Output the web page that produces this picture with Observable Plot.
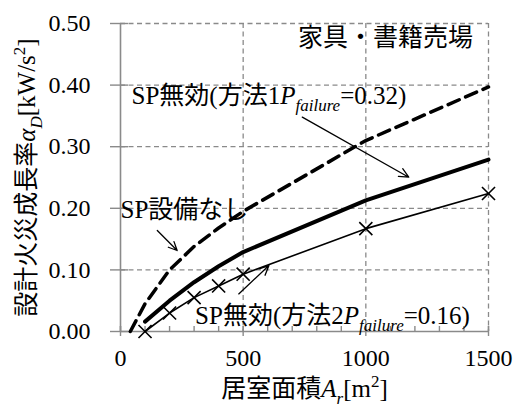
<!DOCTYPE html>
<html><head><meta charset="utf-8">
<script src="https://cdn.jsdelivr.net/npm/d3@7"></script>
<script src="https://cdn.jsdelivr.net/npm/@observablehq/plot@0.6"></script>
<style>
body{margin:0;background:#fff}
#chart svg text, #chart svg tspan { font-family: "Liberation Serif", "Times New Roman", "Noto Sans CJK JP" !important; }
</style>
</head><body><div id="chart"></div>
<script>
// ---- data ----
const noSpArea = [40, 100, 200, 300, 400, 500, 1000, 1500];
const noSpAlpha = [0, 0.045, 0.100, 0.138, 0.168, 0.195, 0.310, 0.397];
const area = [100, 200, 300, 400, 500, 1000, 1500];
const method1Alpha = [0.016, 0.050, 0.080, 0.106, 0.129, 0.213, 0.279];
const method2Alpha = [0.000, 0.030, 0.055, 0.074, 0.093, 0.167, 0.224];
const xTicks = [0, 500, 1000, 1500];
const xMinorTicks = [0, 100, 200, 300, 400, 500, 600, 700, 800, 900, 1000, 1100, 1200, 1300, 1400, 1500];
const yTicks = [0, 0.1, 0.2, 0.3, 0.4, 0.5];
const yTickLabels = ["0.00", "0.10", "0.20", "0.30", "0.40", "0.50"];
const xLabel = "居室面積A_r[m^2]";
const yLabel = "設計火災成長率α_D[kW/s^2]";
const annoText = ["家具・書籍売場", "SP無効(方法1P_failure=0.32)", "SP設備なし", "SP無効(方法2P_failure=0.16)"];
const annoX = [724, 45, 0, 304];
const annoY = [0.477, 0.383, 0.198, 0.0255];
const arrowX1 = [741, 150, 482];
const arrowY1 = [0.348, 0.164, 0.061];
const arrowX2 = [1175, 231, 605];
const arrowY2 = [0.2505, 0.1315, 0.107];

const FS = 24;   // tick labels
const FA = 25;   // annotations & axis titles
const gray = "#8a8a8a";
const noSp = noSpArea.map((x, i) => ({x, y: noSpAlpha[i]}));
const m1 = area.map((x, i) => ({x, y: method1Alpha[i]}));
const m2 = area.map((x, i) => ({x, y: method2Alpha[i]}));
const annos = annoText.map((t, i) => ({t, x: annoX[i], y: annoY[i]}));
const arrows = arrowX1.map((x1, i) => ({x1, y1: arrowY1[i], x2: arrowX2[i], y2: arrowY2[i]}));

const chart = Plot.plot({
  width: 515, height: 409,
  marginLeft: 120, marginRight: 27, marginTop: 23, marginBottom: 78,
  style: {fontFamily: '"Liberation Serif","Noto Sans CJK JP",serif', fontSize: FS + "px", background: "#fff", color: "#000", overflow: "visible"},
  x: {domain: [0, 1500]},
  y: {domain: [0, 0.5]},
  marks: [
    Plot.gridY(yTicks.slice(1), {stroke: gray, strokeOpacity: 1, strokeWidth: 1.3, strokeDasharray: "5,3.5"}),
    Plot.gridX(xTicks.slice(1), {stroke: gray, strokeOpacity: 1, strokeWidth: 1.3, strokeDasharray: "5,3.5"}),
    Plot.ruleX([0], {stroke: gray, strokeWidth: 1.6}),
    Plot.ruleY([0], {stroke: gray, strokeWidth: 1.6}),
    Plot.axisY(yTicks, {tickSize: 18, dx: 8, text: null, stroke: gray, strokeWidth: 1.4}),
    Plot.axisY(yTicks, {tickSize: 0, tickPadding: 30, tickFormat: (d) => yTickLabels[yTicks.indexOf(d)], fill: "#000", fontSize: FS, label: null}),
    Plot.axisX(xTicks, {tickSize: 10, dy: -5, text: null, stroke: gray, strokeWidth: 1.4}),
    Plot.axisX(xMinorTicks, {tickSize: 5, dy: -5, text: null, stroke: gray, strokeWidth: 1.4}),
    Plot.axisX(xTicks, {tickSize: 0, tickPadding: 17, tickFormat: d => String(d), fill: "#000", fontSize: FS, label: null}),
    Plot.line(noSp, {x: "x", y: "y", stroke: "#000", strokeWidth: 3.5, strokeDasharray: "12,7"}),
    Plot.line(m1, {x: "x", y: "y", stroke: "#000", strokeWidth: 4}),
    Plot.line(m2, {x: "x", y: "y", stroke: "#000", strokeWidth: 1.6}),
    Plot.dot(m2, {x: "x", y: "y", symbol: "times", r: 6, stroke: "#000", strokeWidth: 1.6}),
    Plot.arrow(arrows, {x1: "x1", y1: "y1", x2: "x2", y2: "y2", bend: 0, headLength: 12, headAngle: 50, stroke: "#000", strokeWidth: 1.3}),
    Plot.text(annos, {x: "x", y: "y", text: "t", textAnchor: "start", lineAnchor: "middle", fontSize: FA, fill: "#000"}),
    Plot.text([xLabel], {frameAnchor: "bottom", dy: 57, textAnchor: "middle", lineAnchor: "middle", fontSize: FA, fill: "#000"}),
    Plot.text([yLabel], {frameAnchor: "left", dx: -94, rotate: -90, textAnchor: "middle", lineAnchor: "middle", fontSize: FA, fill: "#000"})
  ]
});

// rich text: X_sub -> italic X with italic subscript, ^n -> superscript
function parts(s) {
  const out = [];
  const re = /([A-Za-zα])_([A-Za-z]+)|\^(\w)/g;
  let last = 0, m;
  while ((m = re.exec(s))) {
    if (m.index > last) out.push({t: s.slice(last, m.index), shift: 0});
    if (m[1]) { out.push({t: m[1], italic: true, shift: 0}); out.push({t: m[2], italic: true, shift: 0.3, small: true}); }
    else out.push({t: m[3], shift: -0.4, small: true});
    last = re.lastIndex;
  }
  if (last < s.length) out.push({t: s.slice(last), shift: 0});
  return out;
}
d3.select(chart).selectAll("text").each(function() {
  const s = this.textContent;
  if (!/_|\^/.test(s) || this.children.length) return;
  const el = d3.select(this);
  el.text(null);
  let cur = 0;
  for (const p of parts(s)) {
    const ts = el.append("tspan").text(p.t);
    const target = p.shift * FA;
    if (target !== cur) ts.attr("dy", target - cur);
    cur = target;
    if (p.italic) ts.attr("font-style", "italic");
    if (p.small) ts.attr("font-size", Math.round(FA * 0.68));
  }
});
document.getElementById("chart").appendChild(chart);
</script>
</body></html>
